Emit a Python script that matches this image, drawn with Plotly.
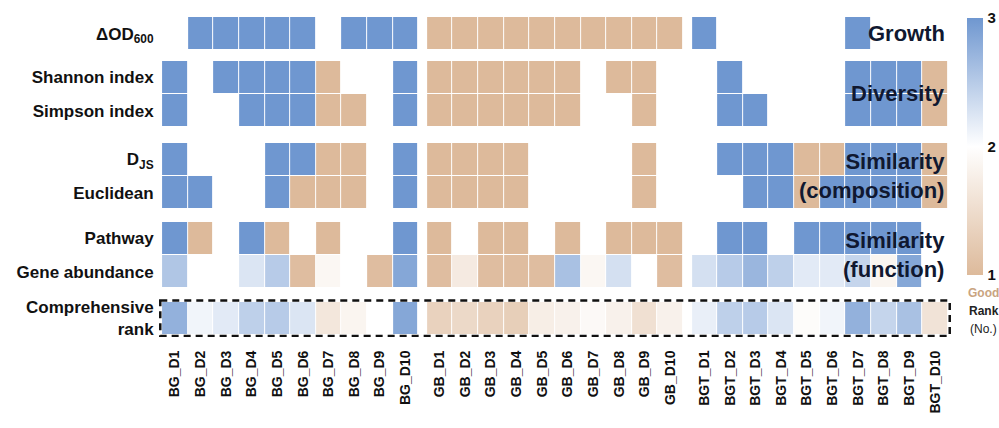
import plotly.graph_objects as go

# ---------------- data ----------------
bg_samples = ["BG_D1", "BG_D2", "BG_D3", "BG_D4", "BG_D5", "BG_D6", "BG_D7", "BG_D8", "BG_D9", "BG_D10"]
gb_samples = ["GB_D1", "GB_D2", "GB_D3", "GB_D4", "GB_D5", "GB_D6", "GB_D7", "GB_D8", "GB_D9", "GB_D10"]
bgt_samples = ["BGT_D1", "BGT_D2", "BGT_D3", "BGT_D4", "BGT_D5", "BGT_D6", "BGT_D7", "BGT_D8", "BGT_D9", "BGT_D10"]

row_labels = ["ΔOD<sub>600</sub>", "Shannon index", "Simpson index", "D<sub>JS</sub>",
              "Euclidean", "Pathway", "Gene abundance", "Comprehensive<br>rank"]

# rank values (1 = good ... 3), order: BG D1-D10, GB D1-D10, BGT D1-D10
growth = [2, 3, 3, 3, 3, 3, 2, 3, 3, 3,
          1, 1, 1, 1, 1, 1, 1, 1, 1, 1,
          3, 2, 2, 2, 2, 2, 3, 2, 2, 2]
shannon = [3, 2, 3, 3, 3, 3, 1, 2, 2, 3,
           1, 1, 1, 1, 1, 1, 2, 1, 1, 2,
           2, 3, 2, 2, 2, 2, 3, 3, 3, 1]
simpson = [3, 2, 2, 3, 3, 3, 1, 1, 2, 3,
           1, 1, 1, 1, 1, 1, 2, 2, 1, 2,
           2, 3, 3, 2, 2, 2, 3, 3, 3, 1]
djs = [3, 2, 2, 2, 3, 3, 1, 1, 2, 3,
       1, 1, 1, 1, 2, 2, 2, 2, 1, 2,
       2, 3, 3, 3, 1, 1, 3, 3, 3, 1]
euclidean = [3, 3, 2, 2, 3, 1, 1, 1, 2, 3,
             1, 1, 1, 1, 2, 2, 2, 2, 1, 2,
             2, 2, 3, 3, 1, 3, 3, 3, 3, 1]
pathway = [3, 1, 2, 3, 1, 2, 1, 2, 2, 3,
           1, 2, 1, 1, 2, 1, 2, 1, 1, 1,
           2, 3, 3, 2, 3, 3, 3, 3, 3, 2]
gene_abundance = [2.55, 2.0, 2.0, 2.25, 2.5, 1.05, 1.88, 2.0, 1.05, 2.85,
                  1.05, 1.7, 1.05, 1.05, 1.05, 2.6, 1.88, 2.3, 2.0, 1.05,
                  2.3, 2.5, 2.7, 2.45, 2.2, 2.2, 2.4, 1.85, 2.85, 2.0]
comprehensive = [2.75, 2.1, 2.2, 2.45, 2.5, 2.25, 1.65, 1.85, 2.0, 2.85,
                 1.35, 1.45, 1.35, 1.3, 1.75, 1.8, 1.92, 1.8, 1.55, 1.8,
                 2.15, 2.45, 2.5, 2.25, 1.95, 2.1, 2.75, 2.4, 2.6, 1.6]

colorbar_ticks = [1, 2, 3]
group_titles = ["Growth", "Diversity", "Similarity<br>(composition)", "Similarity<br>(function)"]

# ---------------- layout helpers ----------------
data_rows = [growth, shannon, simpson, djs, euclidean, pathway, gene_abundance, comprehensive]
row_groups = [[0], [1, 2], [3, 4], [5, 6], [7]]
col_groups = [bg_samples, gb_samples, bgt_samples]

COL_GAP = 0.33
ROW_GAPS = [0.30, 0.45, 0.36, 0.39]
PADX = 0.12
PADY = 0.06

x_edges = [0.0]
col_slots = []
col_labels = []
x_centers = []
k = 0
for gi, grp in enumerate(col_groups):
    if gi > 0:
        x_edges.append(x_edges[-1] + COL_GAP)
        col_slots.append(None)
    for lab in grp:
        x_centers.append(x_edges[-1] + 0.5)
        x_edges.append(x_edges[-1] + 1.0)
        col_slots.append(k)
        col_labels.append(lab)
        k += 1

y_edges = [0.0]
row_slots = []
y_centers = []
group_centers = []
for gi, grp in enumerate(row_groups):
    if gi > 0:
        y_edges.append(y_edges[-1] + ROW_GAPS[gi - 1])
        row_slots.append(None)
    top = y_edges[-1]
    for r in grp:
        y_centers.append(y_edges[-1] + 0.5)
        y_edges.append(y_edges[-1] + 1.0)
        row_slots.append(r)
    group_centers.append((top + y_edges[-1]) / 2)

z = [[None if (r is None or c is None) else data_rows[r][c] for c in col_slots] for r in row_slots]

TAN = "#DDBA9B"
BLUE = "#6F97D0"
FONT = "Liberation Sans, Arial, sans-serif"

x_total = x_edges[-1]
y_total = y_edges[-1]
comp_top = y_edges[-2]
comp_bot = y_edges[-1]

# pixel geometry
W, H = 999, 428
cell_px = 786 / x_total
row_px = 318 / y_total
ml = 162 - PADX * cell_px
mr = W - (948 + PADX * cell_px)
mt = 17
mb = H - (335 + PADY * row_px)
plot_w = W - ml - mr
plot_h = H - mt - mb

def px_x(px):
    return (px - ml) / plot_w

def px_y(py):
    return (H - mb - py) / plot_h

fig = go.Figure()
fig.add_trace(go.Heatmap(
    x=x_edges, y=y_edges, z=z, zmin=1, zmax=3,
    colorscale=[[0, TAN], [0.5, "#FFFFFF"], [1, BLUE]],
    xgap=1, ygap=1, hoverongaps=False,
    colorbar=dict(
        tickmode="array", tickvals=colorbar_ticks,
        ticktext=["<b>%d</b>" % v for v in colorbar_ticks],
        tickfont=dict(family=FONT, size=15, color="#111"),
        thickness=16, thicknessmode="pixels", lenmode="pixels", len=257,
        x=px_x(967), xanchor="left", xpad=0,
        y=px_y(18), yanchor="top", ypad=0,
        outlinewidth=0, ticks="outside", ticklen=2, tickcolor="rgba(0,0,0,0)",
    ),
))

fig.add_shape(type="rect", xref="x", yref="y",
              x0=-0.07, x1=x_total + 0.07, y0=comp_top - 0.03, y1=comp_bot + 0.03,
              line=dict(color="#111", width=2.5, dash="7px,5px"), fillcolor="rgba(0,0,0,0)")

for title, yc in zip(group_titles, group_centers[:4]):
    fig.add_annotation(x=x_total - 0.05, y=yc, xref="x", yref="y", text="<b>" + title + "</b>",
                       showarrow=False, xanchor="right", yanchor="middle", align="right",
                       font=dict(family=FONT, size=22, color="#101830"))

legend_notes = [("<b>Good</b>", 293, "#C9A47F"), ("<b>Rank</b>", 311, "#222"), ("(No.)", 329, "#222")]
for txt, py, col in legend_notes:
    fig.add_annotation(x=px_x(984), y=px_y(py), xref="paper", yref="paper", text=txt,
                       showarrow=False, xanchor="center", yanchor="middle",
                       font=dict(family=FONT, size=12, color=col))

fig.update_layout(
    width=W, height=H,
    margin=dict(l=ml, r=mr, t=mt, b=mb, autoexpand=False),
    paper_bgcolor="white", plot_bgcolor="white",
    showlegend=False,
    xaxis=dict(range=[-PADX, x_total + PADX], tickvals=x_centers, ticktext=col_labels, tickangle=-90,
               showgrid=False, zeroline=False, showline=False, automargin=False,
               ticks="outside", ticklen=7, tickcolor="rgba(0,0,0,0)",
               tickfont=dict(family=FONT, size=14, color="#111", weight="bold")),
    yaxis=dict(range=[y_total + PADY, 0], tickvals=y_centers, ticktext=row_labels,
               showgrid=False, zeroline=False, showline=False, automargin=False,
               ticks="outside", ticklen=1, tickcolor="rgba(0,0,0,0)",
               tickfont=dict(family=FONT, size=17, color="#111", weight="bold")),
)

fig.write_html("out.html", config={"displayModeBar": False},
               post_script="document.body.style.margin='0px';document.body.style.overflow='hidden';")
